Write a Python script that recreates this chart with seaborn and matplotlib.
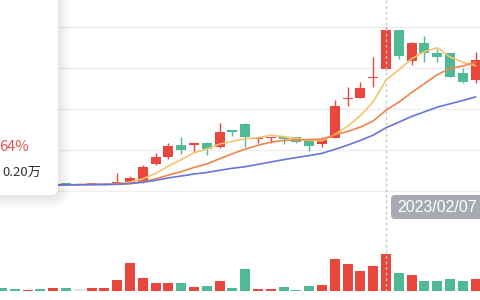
import numpy as np
import pandas as pd
import matplotlib
matplotlib.use("Agg")
import matplotlib.pyplot as plt
import matplotlib.transforms as mtransforms
from matplotlib.patches import FancyBboxPatch
from matplotlib.lines import Line2D
import seaborn as sns

# ---------------- data ----------------
opens  = [2.31, 2.31, 2.29, 2.31, 2.29, 2.37, 2.33, 2.33, 2.32, 2.34,
          2.40, 2.44, 3.32, 3.64, 4.24, 4.24, 4.33, 4.16, 4.98, 5.27,
          4.54, 4.57, 4.62, 4.62, 4.44, 4.29, 4.57, 6.47, 6.56, 7.50,
          7.94, 9.85, 8.36, 9.23, 8.72, 8.75, 7.74, 7.41]
closes = [2.29, 2.29, 2.31, 2.29, 2.33, 2.29, 2.33, 2.37, 2.36, 2.44,
          2.65, 3.17, 3.64, 4.20, 4.00, 4.33, 4.03, 4.89, 4.86, 4.62,
          4.59, 4.65, 4.52, 4.40, 4.20, 4.52, 6.15, 6.52, 7.01, 7.58,
          9.85, 8.59, 9.23, 8.72, 8.55, 7.58, 7.33, 8.39]
lows   = [2.27, 2.27, 2.27, 2.27, 2.27, 2.28, 2.29, 2.32, 2.29, 2.32,
          2.37, 2.39, 3.27, 3.55, 3.80, 3.89, 3.76, 4.08, 4.68, 4.16,
          4.33, 4.36, 4.29, 4.34, 3.97, 4.16, 4.57, 6.15, 6.56, 7.09,
          7.90, 8.42, 8.15, 8.31, 8.31, 7.58, 7.25, 7.25]
highs  = [2.33, 2.33, 2.33, 2.33, 2.35, 2.38, 2.37, 2.41, 2.38, 2.88,
          2.73, 3.27, 3.87, 4.36, 4.62, 4.33, 4.37, 5.33, 4.98, 5.33,
          4.59, 4.65, 4.63, 4.63, 4.52, 4.62, 6.44, 7.09, 7.33, 8.52,
          10.01, 9.85, 9.28, 9.56, 8.91, 8.75, 7.99, 8.80]
volumes = [2.3, 1.3, 1.0, 1.3, 2.7, 2.7, 1.7, 2.7, 2.7, 11.0,
           28.0, 13.0, 8.0, 8.0, 8.0, 4.0, 5.0, 10.0, 3.0, 22.0,
           2.0, 1.5, 3.5, 1.0, 4.5, 6.0, 32.0, 27.0, 19.5, 24.5,
           37.0, 17.5, 16.0, 10.0, 10.0, 12.0, 10.0, 12.0]
ma_windows = [5, 10, 20]
crosshair_index = 30
crosshair_label = "2023/02/07"
tooltip_change = "64%"
tooltip_volume = "0.20万"

# ---------------- styling ----------------
RED = "#e9473d"
GREEN = "#4fba93"
FLAT = "#e4e4e4"
MA_COLORS = ["#f3c46c", "#ef844c", "#6676df"]

sns.set_theme(style="white")
plt.rcParams["font.family"] = ["Noto Sans CJK SC", "DejaVu Sans"]

W, H = 480, 300
fig = plt.figure(figsize=(W / 100, H / 100), dpi=100)
fig.patch.set_facecolor("white")

# main (price) axes: pixel rows 0..200
ax = fig.add_axes([0, 1 - 200 / H, 1, 200 / H])
# volume axes: pixel rows 250..290.7
axv = fig.add_axes([0, 9.3 / H, 1, 40.7 / H])

idx = np.arange(len(opens))
o = np.array(opens)
c = np.array(closes)
lo = np.array(lows)
hi = np.array(highs)

direction = np.where(c > o, "up", np.where(c < o, "down", "flat"))
cmap = {"up": RED, "down": GREEN, "flat": GREEN}
cols = [cmap[d] for d in direction]

# wicks + bodies
ax.vlines(idx, lo, hi, colors=cols, linewidth=1.0, zorder=2)
ax.bar(idx, np.maximum(np.abs(c - o), 0.025), bottom=np.minimum(o, c),
       width=0.78, color=cols, linewidth=0, zorder=3)

# moving averages of the close
close_s = pd.Series(c)
for w, col in zip(ma_windows, MA_COLORS):
    ma = close_s.rolling(w, min_periods=1).mean()
    sns.lineplot(x=idx, y=ma.values, ax=ax, color=col, linewidth=1.2, zorder=4)

ax.set_xlim(-0.156, 37.34)
ax.set_ylim(1.561, 11.317)
ax.set_yticks([2, 4, 6, 8, 10])
ax.set_xticks([])
ax.tick_params(length=0, labelleft=False, labelbottom=False)
ax.grid(axis="y", color="#eeeeee", linewidth=1)
ax.set_axisbelow(True)
for s in ax.spines.values():
    s.set_visible(False)
ax.set_xlabel("")
ax.set_ylabel("")

# volume bars
vdf = pd.DataFrame({"idx": idx, "vol": volumes, "dir": direction})
sns.barplot(data=vdf, x="idx", y="vol", hue="dir",
            palette={"up": RED, "down": GREEN, "flat": FLAT},
            native_scale=True, width=0.78, dodge=False, legend=False,
            saturation=1, ax=axv, linewidth=0)
axv.set_xlim(-0.156, 37.34)
axv.set_ylim(0, 40.7)
axv.axis("off")

# crosshair
trans = mtransforms.blended_transform_factory(ax.transData, fig.transFigure)
fig.add_artist(Line2D([crosshair_index, crosshair_index], [1.0, 9.3 / H],
                      transform=trans, color="#c9c9c9", linewidth=1,
                      linestyle=(0, (2, 2)), zorder=6))

ident = mtransforms.IdentityTransform()
# date label on the crosshair
fig.add_artist(FancyBboxPatch((391, H - 219), 100, 24,
                              boxstyle="round,pad=0,rounding_size=4",
                              transform=ident, fc="#a7aab0", ec="none", zorder=7))
fig.text(397 / W, 1 - 207 / H, crosshair_label, color="white", fontsize=11.5,
         ha="left", va="center", zorder=8, family=["Liberation Sans", "DejaVu Sans"])

# tooltip box with soft shadow
n_layers = 12
for k in range(n_layers, 0, -1):
    fig.add_artist(FancyBboxPatch((-30 - k, H - 195 - k - 1), 88 + 2 * k, 240,
                                  boxstyle="round,pad=0,rounding_size=%d" % (7 + k),
                                  transform=ident, fc="black", ec="none",
                                  alpha=0.008, zorder=8))
fig.add_artist(FancyBboxPatch((-30, H - 195), 88, 240,
                              boxstyle="round,pad=0,rounding_size=7",
                              transform=ident, fc="white", ec="none", zorder=9))
fig.text(29 / W, 1 - 147 / H, tooltip_change, color="#e0534a", fontsize=10.5,
         ha="right", va="center", zorder=10)
fig.text(41 / W, 1 - 172 / H, tooltip_volume, color="#333333", fontsize=9.5,
         ha="right", va="center", zorder=10)

fig.savefig("out.png", dpi=100, facecolor="white")
